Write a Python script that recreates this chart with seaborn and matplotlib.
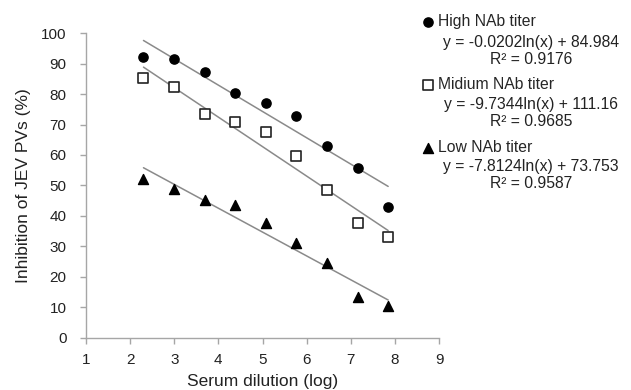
import matplotlib
matplotlib.use('Agg')
import matplotlib.pyplot as plt
import seaborn as sns
import numpy as np

# serum dilutions 1:10 ... 1:2560, plotted as ln(dilution)
dilution = [10, 20, 40, 80, 160, 320, 640, 1280, 2560]
high_titer = [92.2, 91.5, 87.2, 80.3, 77, 72.9, 63.1, 55.7, 43]
medium_titer = [85.3, 82.2, 73.5, 70.7, 67.4, 59.7, 48.5, 37.7, 33.2]
low_titer = [52, 48.7, 45.2, 43.6, 37.7, 31.1, 24.5, 13.3, 10.5]

series_names = ["High NAb titer", "Midium NAb titer", "Low NAb titer"]
equations = ["y = -0.0202ln(x) + 84.984",
             "y = -9.7344ln(x) + 111.16",
             "y = -7.8124ln(x) + 73.753"]
r_squared = ["R² = 0.9176", "R² = 0.9685", "R² = 0.9587"]

sns.set_theme(style="white")
plt.rcParams['font.family'] = ['Liberation Sans', 'DejaVu Sans']

log_x = np.log(dilution)

fig = plt.figure(figsize=(6.31, 3.9), dpi=100)
ax = fig.add_axes([86 / 631, 1 - 337.5 / 390, 353 / 631, 304.2 / 390])

markers = ['o', 's', '^']
scatter_styles = [
    dict(s=44, facecolors='black', edgecolors='black'),
    dict(s=46, facecolors='white', edgecolors='#222222', linewidths=1.2),
    dict(s=52, facecolors='black', edgecolors='black'),
]

for name, values, mk, st in zip(series_names,
                                [high_titer, medium_titer, low_titer],
                                markers, scatter_styles):
    sns.regplot(x=log_x, y=values, ax=ax, ci=None, label=name, marker=mk,
                color='black',
                scatter_kws=dict(st, zorder=3, alpha=1),
                line_kws={'color': '#8a8a8a', 'linewidth': 1.1})

ax.set_xlim(1, 9)
ax.set_ylim(0, 100)
ax.set_xticks(range(1, 10))
ax.set_yticks(range(0, 101, 10))
ax.set_xlabel("Serum dilution (log)", fontsize=12.5, color='#222222', labelpad=5)
ax.set_ylabel("Inhibition of JEV PVs (%)", fontsize=12.5, color='#222222', labelpad=7)

for side in ['top', 'right']:
    ax.spines[side].set_visible(False)
for side in ['left', 'bottom']:
    ax.spines[side].set_color('#a6a6a6')
    ax.spines[side].set_linewidth(1)
ax.tick_params(axis='both', which='both', direction='out', length=4,
               width=1, color='#a6a6a6', labelsize=11, labelcolor='#222222',
               bottom=True, left=True)
ax.tick_params(axis='y', pad=10)
ax.tick_params(axis='x', pad=7)

handles = ax.collections[:3]
leg = fig.legend(handles, series_names, loc='upper left',
                 bbox_to_anchor=(0.665, 0.963), frameon=False,
                 fontsize=11.3, handletextpad=0.1, handlelength=1.1,
                 labelspacing=3.05, borderaxespad=0, borderpad=0)

eq_x = 531 / 631
for i, (eq, r2) in enumerate(zip(equations, r_squared)):
    y_eq = [43, 104, 167][i]
    y_r2 = [60, 121, 183][i]
    fig.text(eq_x, 1 - y_eq / 390, eq, ha='center', va='center',
             fontsize=11.3, color='#222222')
    fig.text(eq_x, 1 - y_r2 / 390, r2, ha='center', va='center',
             fontsize=11.3, color='#222222')

fig.savefig("out.png", dpi=100)
plt.close(fig)
